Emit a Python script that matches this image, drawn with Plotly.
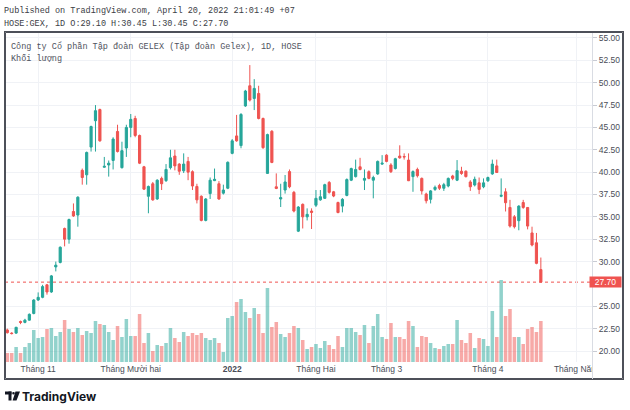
import plotly.graph_objects as go

# ---------------- data ----------------
opens = [22.35, 22.0, 22.0, 23.3, 23.2, 23.45, 24.2, 25.7, 26.0, 27.4,
         26.6, 29.4, 29.9, 33.7, 32.5, 35.6, 35.2, 40.2, 39.7, 42.8,
         45.75, 47.0, 40.55, 40.8, 41.3, 44.55, 40.5, 42.7, 45.0, 46.0,
         44.1, 40.6, 37.3, 38.7, 37.0, 39.3, 39.05, 40.5, 41.8, 40.9,
         40.15, 41.2, 40.05, 38.4, 37.3, 34.6, 37.6, 39.05, 38.7, 37.65,
         38.2, 42.1, 44.05, 42.97, 47.4, 49.66, 48.24, 48.8, 46.0, 39.86,
         44.57, 38.36, 37.0, 38.0, 40.06, 37.74, 33.4, 36.4, 35.0, 35.65,
         36.3, 36.9, 37.07, 38.85, 37.8, 36.6, 36.2, 37.4, 39.1, 39.5,
         40.6, 39.1, 40.05, 39.1, 39.8, 40.9, 41.9, 40.8, 40.4, 41.8,
         41.75, 41.35, 39.5, 40.3, 39.3, 37.55, 36.96, 38.07, 38.5, 38.2,
         38.45, 39.57, 39.1, 40.1, 40.1, 38.9, 38.56, 38.8, 38.36, 39.04,
         39.8, 40.7, 37.3, 37.8, 36.05, 35.0, 34.57, 36.6, 36.05, 33.2,
         32.1, 29.1]
highs = [22.5, 22.1, 22.7, 23.4, 23.6, 24.2, 25.8, 26.55, 27.4, 27.5,
         28.5, 30.0, 31.7, 33.8, 34.8, 36.5, 37.3, 40.4, 42.3, 45.2,
         47.5, 47.1, 41.7, 41.3, 43.9, 45.3, 43.4, 45.3, 46.5, 46.3,
         44.2, 40.7, 38.5, 38.9, 39.2, 39.5, 40.9, 42.5, 42.5, 41.0,
         42.1, 41.7, 40.2, 38.7, 37.4, 37.1, 39.4, 40.4, 39.0, 38.6,
         41.2, 43.7, 46.4, 46.6, 49.2, 51.97, 50.4, 49.66, 46.1, 44.3,
         44.7, 39.86, 38.7, 39.68, 40.3, 37.9, 36.2, 36.5, 35.95, 35.95,
         38.0, 38.0, 38.7, 39.0, 37.9, 36.7, 37.1, 39.3, 40.5, 41.4,
         41.6, 40.3, 40.2, 39.6, 41.3, 41.9, 42.0, 41.0, 41.6, 43.0,
         42.1, 42.1, 40.2, 40.5, 39.4, 37.7, 38.0, 38.5, 38.7, 38.8,
         39.4, 39.7, 41.35, 40.6, 40.2, 39.1, 39.5, 39.4, 39.3, 39.5,
         41.4, 41.4, 39.3, 38.2, 36.9, 35.2, 36.3, 36.9, 36.1, 33.9,
         33.2, 30.45]
lows = [21.95, 21.85, 21.9, 23.0, 23.1, 23.4, 24.1, 25.6, 25.9, 26.3,
        26.5, 28.9, 29.8, 31.7, 32.0, 35.0, 33.9, 38.6, 38.6, 42.3,
        42.3, 43.4, 40.5, 39.5, 40.3, 42.2, 40.4, 41.7, 43.9, 43.9,
        40.9, 38.0, 35.4, 36.8, 36.9, 38.0, 38.9, 40.3, 40.2, 39.7,
        39.9, 39.1, 38.0, 36.5, 34.5, 34.5, 37.0, 39.0, 36.9, 37.5,
        38.1, 42.0, 43.4, 42.67, 47.3, 47.9, 46.94, 45.9, 42.6, 39.8,
        41.0, 38.1, 36.1, 37.6, 38.2, 35.5, 33.3, 33.7, 34.6, 33.64,
        36.1, 36.8, 37.0, 37.6, 37.2, 35.4, 35.5, 37.3, 39.0, 39.4,
        40.2, 38.0, 39.2, 37.07, 39.7, 40.8, 41.1, 39.9, 40.3, 41.5,
        41.4, 39.0, 37.8, 39.4, 37.5, 36.5, 36.5, 37.9, 38.0, 37.9,
        38.3, 39.1, 39.0, 39.7, 39.4, 37.9, 38.4, 37.55, 38.2, 38.9,
        39.7, 39.9, 37.2, 35.6, 33.8, 33.7, 33.5, 35.9, 33.6, 31.7,
        29.7, 27.7]
closes = [22.05, 21.95, 22.65, 23.2, 23.45, 24.1, 25.7, 26.0, 27.2, 26.6,
          28.4, 29.6, 31.6, 32.5, 34.7, 35.1, 37.2, 39.4, 42.2, 45.1,
          46.87, 43.5, 40.65, 41.0, 43.7, 42.3, 42.4, 45.0, 45.9, 44.1,
          41.0, 38.1, 38.4, 36.9, 39.1, 38.7, 40.3, 41.6, 40.7, 40.1,
          40.9, 40.0, 38.45, 36.9, 34.6, 37.0, 39.1, 39.2, 37.0, 38.0,
          41.1, 43.5, 43.5, 46.45, 49.07, 48.06, 49.36, 46.0, 42.74, 44.2,
          41.08, 38.18, 37.15, 38.9, 38.36, 35.65, 36.1, 35.0, 35.28, 35.5,
          37.07, 37.25, 38.6, 37.74, 37.33, 35.48, 36.96, 39.17, 40.4, 40.3,
          40.3, 39.3, 39.3, 39.4, 41.2, 41.0, 41.2, 40.05, 41.5, 41.6,
          41.7, 39.04, 40.06, 39.6, 37.9, 36.8, 37.9, 38.3, 38.2, 38.6,
          39.3, 39.3, 40.17, 39.85, 39.5, 38.36, 39.2, 38.07, 38.8, 39.4,
          40.9, 39.96, 37.4, 36.58, 33.97, 33.9, 36.2, 36.05, 33.97, 31.85,
          29.8, 27.7]
volumes = [4.5, 4.5, 7.5, 4.5, 7.5, 9.5, 16.0, 12.0, 12.5, 16.5,
           17.0, 13.0, 15.0, 21.0, 16.5, 15.0, 17.0, 13.5, 15.5, 14.5,
           20.5, 19.0, 18.5, 15.0, 11.0, 18.0, 12.5, 21.5, 13.0, 13.0,
           24.0, 9.5, 14.5, 5.5, 8.5, 8.0, 9.5, 17.0, 12.0, 10.0,
           15.0, 13.0, 14.5, 13.5, 14.5, 12.0, 11.0, 12.0, 9.5, 5.0,
           22.0, 23.0, 30.0, 31.5, 25.0, 22.0, 27.0, 24.0, 14.5, 37.0,
           17.5, 20.0, 14.0, 12.5, 14.5, 18.0, 17.0, 11.0, 6.5, 7.5,
           9.0, 7.0, 10.5, 8.5, 6.5, 13.0, 7.5, 17.0, 17.0, 15.0,
           13.5, 18.5, 9.5, 18.0, 24.0, 12.5, 11.5, 19.5, 12.5, 12.5,
           11.5, 20.5, 18.0, 7.5, 13.0, 12.5, 9.5, 7.0, 6.5, 8.0,
           9.0, 9.0, 21.0, 11.0, 9.5, 14.5, 7.0, 12.0, 11.5, 8.0,
           25.5, 12.5, 41.0, 23.0, 26.5, 12.5, 12.5, 9.0, 16.5, 17.5,
           15.0, 20.5]

tick_idx = [7, 28, 51, 70, 86, 109, 129]
tick_text = ["Tháng 11", "Tháng Mười hai", "<b>2022</b>", "Tháng Hai",
             "Tháng 3", "Tháng 4", "Tháng Năm"]
price_ticks = [20.0, 22.5, 25.0, 30.0, 32.5, 35.0, 37.5, 40.0,
               42.5, 45.0, 47.5, 50.0, 52.5, 55.0]
last_price = 27.70

header1 = "Published on TradingView.com, April 20, 2022 21:01:49 +07"
header2 = "HOSE:GEX, 1D O:29.10 H:30.45 L:30.45 C:27.70"
title1 = "Công ty Cổ phần Tập đoàn GELEX (Tập đoàn Gelex), 1D, HOSE"
title2 = "Khối lượng"

# ---------------- styling ----------------
UP = "#26a69a"
DN = "#ef5350"
UP_V = "rgba(38,166,154,0.5)"
DN_V = "rgba(239,83,80,0.5)"
GRID = "#f0f2f6"
FRAME = "#4d5059"
W, H = 630, 410
FL, FT, FR, FB = 5, 32, 623, 379   # outer frame in page pixels
CR, CB = 592, 362                  # chart pane right / bottom


def px(xp):
    return (xp - FL) / (FR - FL)


def py(yp):
    return (FB - yp) / (FB - FT)


def box(x0, x1, y0, y1, color):
    return dict(type="rect", xref="paper", yref="paper", x0=px(x0), x1=px(x1),
                y0=py(y1), y1=py(y0), fillcolor=color, line=dict(width=0), layer="above")


x = list(range(len(opens)))
vol_colors = [UP_V if c >= o else DN_V for o, c in zip(opens, closes)]

fig = go.Figure()
fig.add_trace(go.Bar(x=x, y=volumes, marker=dict(color=vol_colors, line=dict(width=0)),
                     xaxis="x", yaxis="y", hoverinfo="skip", showlegend=False))
fig.add_trace(go.Candlestick(
    x=x, open=opens, high=highs, low=lows, close=closes, xaxis="x", yaxis="y2",
    increasing=dict(line=dict(color=UP, width=1), fillcolor=UP),
    decreasing=dict(line=dict(color=DN, width=1), fillcolor=DN),
    whiskerwidth=0, showlegend=False))
# outer frame: closed polyline, inset half a pixel so it is not clipped
ex = 0.5 / (FR - FL)
ey = 0.5 / (FB - FT)
fig.add_trace(go.Scatter(x=[ex, 1 - ex, 1 - ex, ex, ex], y=[ey, ey, 1 - ey, 1 - ey, ey],
                         xaxis="x3", yaxis="y3", mode="lines",
                         line=dict(color=FRAME, width=1), hoverinfo="skip", showlegend=False))

xdom = [0, px(CR)]
ydom = [py(CB), 1]

fig.update_layout(
    width=W, height=H,
    margin=dict(l=FL, r=W - FR, t=FT, b=H - FB, pad=0, autoexpand=False),
    paper_bgcolor="white", plot_bgcolor="rgba(0,0,0,0)",
    bargap=0.2,
    xaxis=dict(domain=xdom, anchor="y", range=[-0.52, 132.6], tickmode="array",
               tickvals=tick_idx, ticktext=tick_text,
               showgrid=True, gridcolor=GRID, gridwidth=1, zeroline=False, showline=False,
               ticks="", tickfont=dict(family="Liberation Sans", size=8.5, color="#4a4d57"),
               rangeslider=dict(visible=False), fixedrange=True),
    yaxis=dict(domain=ydom, anchor="x", range=[0, 165], visible=False, showgrid=False,
               zeroline=False, fixedrange=True),
    yaxis2=dict(overlaying="y", anchor="x", side="right", range=[18.77, 55.67], tickmode="array",
                tickvals=price_ticks, tickformat=".2f", showgrid=True, gridcolor=GRID,
                zeroline=False, showline=True, linecolor="#d9dce3", linewidth=1,
                ticks="outside", ticklen=4, tickcolor="#c8cbd3",
                tickfont=dict(family="Liberation Sans", size=8.5, color="#4a4d57"),
                fixedrange=True),
    xaxis3=dict(domain=[0, 1], anchor="y3", range=[0, 1], showline=True, mirror=True,
                linecolor=FRAME, linewidth=1, showticklabels=False, ticks="", showgrid=False,
                zeroline=False, fixedrange=True),
    yaxis3=dict(domain=[0, 1], anchor="x3", range=[0, 1], showline=True, mirror=True,
                linecolor=FRAME, linewidth=1, showticklabels=False, ticks="", showgrid=False,
                zeroline=False, fixedrange=True),
)

shapes = []
shapes.append(dict(type="line", xref="x domain", yref="y2", x0=0, x1=1, y0=last_price, y1=last_price,
                   line=dict(color=DN, width=1, dash="dot"), layer="below"))
shapes.append(box(592.5, 622, 362.5, 378, "white"))
shapes.append(box(592, 593, 362, 379, "#d9dce3"))
# TradingView logo mark
shapes.append(box(5, 11.5, 391.5, 394.5, "#131722"))
shapes.append(box(8.5, 11.5, 391.5, 400.5, "#131722"))
shapes.append(dict(type="circle", xref="paper", yref="paper", x0=px(12.2), x1=px(14.8),
                   y0=py(394.6), y1=py(392.0), fillcolor="#131722", line=dict(width=0)))
shapes.append(dict(type="path", xref="paper", yref="paper",
                   path="M {} {} L {} {} L {} {} L {} {} Z".format(
                       px(15.5), py(391.5), px(20.0), py(391.5), px(16.5), py(400.5), px(12.6), py(400.5)),
                   fillcolor="#131722", line=dict(width=0)))
fig.update_layout(shapes=shapes)

mono = dict(family="Liberation Mono", size=8.5, color="#3b3d45")
mono2 = dict(family="Liberation Mono", size=8.5, color="#50535e")
ann = [
    dict(text=header1, x=px(3), y=py(11), font=mono),
    dict(text=header2, x=px(3), y=py(24), font=mono),
    dict(text=title1, x=px(10), y=py(46), font=mono2),
    dict(text=title2, x=px(10), y=py(59), font=mono2),
    dict(text="<b>TradingView</b>", x=px(21), y=py(396), font=dict(family="Inter", size=12, color="#131722")),
]
for a in ann:
    fig.add_annotation(xref="paper", yref="paper", xanchor="left", yanchor="middle",
                       showarrow=False, borderpad=0, **a)

fig.add_annotation(xref="paper", yref="y2", x=px(589), y=last_price, xanchor="left", yanchor="middle",
                   text="27.70", showarrow=False, bgcolor=DN, width=31, height=10, borderpad=0,
                   align="center", font=dict(family="Liberation Sans", size=8.5, color="white"))

fig.write_html("out.html", config={"displayModeBar": False},
               post_script="document.body.style.margin='0';document.body.style.padding='0';")
